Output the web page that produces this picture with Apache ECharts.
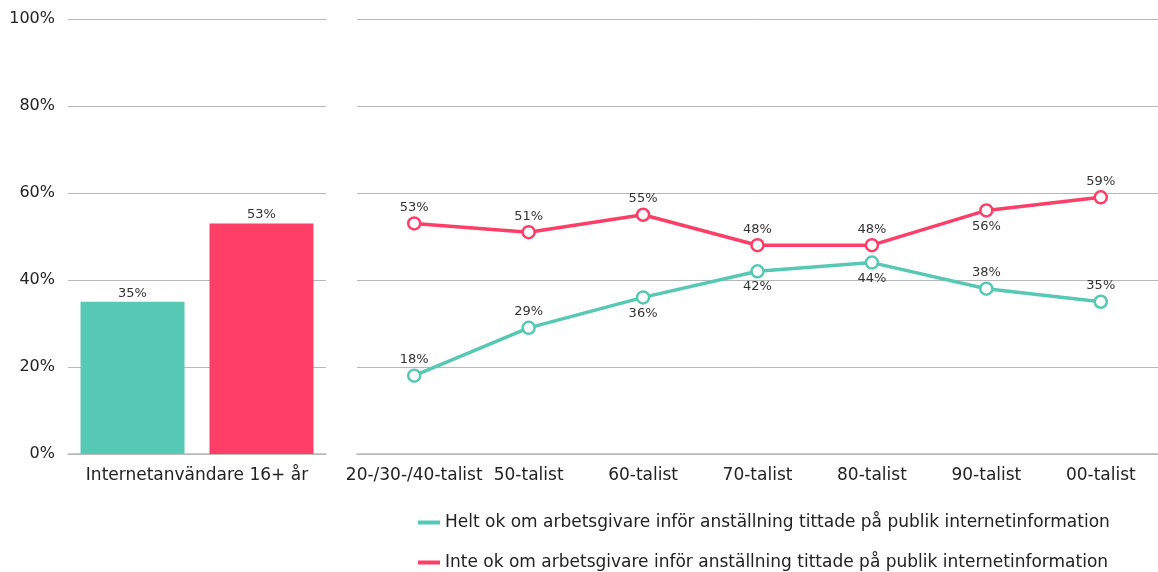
<!DOCTYPE html>
<html>
<head>
<meta charset="utf-8">
<script src="https://cdn.jsdelivr.net/npm/echarts@6/dist/echarts.min.js"></script>
<style>
  html, body { margin: 0; padding: 0; background: #fff; }
  #chart { width: 1158px; height: 572px; }
</style>
</head>
<body>
<div id="chart"></div>
<script>
const barCategories = ['Internetanvändare 16+ år']
const barHelt = [35]
const barInte = [53]

const ageCategories = ['20-/30-/40-talist', '50-talist', '60-talist', '70-talist', '80-talist', '90-talist', '00-talist']
const heltOk = [18, 29, 36, 42, 44, 38, 35]
const inteOk = [53, 51, 55, 48, 48, 56, 59]
// where each point label sits (above or below the point)
const heltLabelPos = ['top', 'top', 'bottom', 'bottom', 'bottom', 'top', 'top']
const inteLabelPos = ['top', 'top', 'top', 'top', 'top', 'bottom', 'top']

const nameHelt = 'Helt ok om arbetsgivare inför anställning tittade på publik internetinformation'
const nameInte = 'Inte ok om arbetsgivare inför anställning tittade på publik internetinformation'

const teal = '#56c8b4'
const red = '#ff3f67'
const font = 'DejaVu Sans'

const chart = echarts.init(document.getElementById('chart'))

const yAxisBase = {
  type: 'value',
  min: 0,
  max: 100,
  interval: 20,
  axisLine: { show: false },
  axisTick: { show: false },
  splitLine: { lineStyle: { color: '#b8b8b8', width: 1 } }
}

const catAxisBase = {
  type: 'category',
  axisTick: { show: false },
  axisLine: { lineStyle: { color: '#b8b8b8', width: 1.5 } },
  axisLabel: { color: '#222', fontSize: 17, fontFamily: font, margin: 13, interval: 0 }
}

const pointLabel = (dist) => ({
  show: true,
  fontSize: 13,
  color: '#333',
  fontFamily: font,
  distance: dist,
  formatter: (p) => p.value + '%',
  position: 'top'
})

const lineData = (vals, positions) => vals.map((v, i) => ({ value: v, label: { position: positions[i] } }))

const legendBase = {
  left: 413,
  itemWidth: 22,
  itemHeight: 4,
  itemGap: 6,
  icon: 'rect',
  selectedMode: false,
  textStyle: { color: '#222', fontSize: 17, fontFamily: font }
}

const option = {
  animation: false,
  textStyle: { fontFamily: font },
  grid: [
    { left: 68, right: 832, top: 19, bottom: 118 },
    { left: 357, width: 805, top: 19, bottom: 118 }
  ],
  xAxis: [
    Object.assign({ gridIndex: 0, data: barCategories }, catAxisBase),
    Object.assign({ gridIndex: 1, data: ageCategories }, catAxisBase)
  ],
  yAxis: [
    Object.assign({ gridIndex: 0 }, yAxisBase, {
      axisLabel: { formatter: '{value}%', color: '#222', fontSize: 16, fontFamily: font, margin: 13 }
    }),
    Object.assign({ gridIndex: 1 }, yAxisBase, { axisLabel: { show: false } })
  ],
  legend: [
    Object.assign({ top: 509, data: [{ name: nameHelt, itemStyle: { color: teal, borderWidth: 0 } }] }, legendBase),
    Object.assign({ top: 549, data: [{ name: nameInte, itemStyle: { color: red, borderWidth: 0 } }] }, legendBase)
  ],
  series: [
    {
      name: 'bar-helt',
      type: 'bar',
      xAxisIndex: 0,
      yAxisIndex: 0,
      data: barHelt,
      barWidth: 104,
      barGap: '24%',
      itemStyle: { color: teal },
      label: pointLabel(2),
      silent: true
    },
    {
      name: 'bar-inte',
      type: 'bar',
      xAxisIndex: 0,
      yAxisIndex: 0,
      data: barInte,
      barWidth: 104,
      barGap: '24%',
      itemStyle: { color: red },
      label: pointLabel(2),
      silent: true
    },
    {
      name: nameHelt,
      type: 'line',
      xAxisIndex: 1,
      yAxisIndex: 1,
      data: lineData(heltOk, heltLabelPos),
      symbol: 'circle',
      symbolSize: 12,
      lineStyle: { color: teal, width: 3.5 },
      itemStyle: { color: '#fff', borderColor: teal, borderWidth: 2.5 },
      label: pointLabel(2)
    },
    {
      name: nameInte,
      type: 'line',
      xAxisIndex: 1,
      yAxisIndex: 1,
      data: lineData(inteOk, inteLabelPos),
      symbol: 'circle',
      symbolSize: 12,
      lineStyle: { color: red, width: 3.5 },
      itemStyle: { color: '#fff', borderColor: red, borderWidth: 2.5 },
      label: pointLabel(2)
    }
  ]
}

chart.setOption(option)
</script>
</body>
</html>
